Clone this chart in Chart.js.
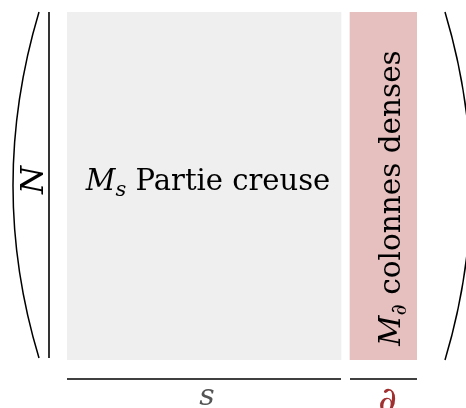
<!DOCTYPE html>
<html>
<head>
<meta charset="utf-8">
<script src="https://cdn.jsdelivr.net/npm/chart.js@4"></script>
<style>
  html, body { margin: 0; padding: 0; background: #fff; }
  #wrap { width: 466px; height: 408px; }
</style>
</head>
<body>
<div id="wrap"><canvas id="matrixChart"></canvas></div>
<script>
// column blocks of the matrix (in column units)
const blockNames = ['s', '∂'];
const blockTitles = ['Partie creuse', 'colonnes denses'];
const blockSubs = ['s', '∂'];
const blockStart = [0, 28.3];
const blockEnd = [27.4, 35];
const rowLabels = ['N'];

const serif = '"DejaVu Serif", "Liberation Serif", serif';

function drawRich(ctx, parts, x, y, align) {
    let total = 0;
    parts.forEach(p => {
        ctx.font = p.font;
        total += ctx.measureText(p.text).width;
    });
    let cx = align === 'center' ? x - total / 2 : x;
    parts.forEach(p => {
        ctx.font = p.font;
        ctx.fillStyle = p.color || '#000';
        ctx.fillText(p.text, cx, y + (p.dy || 0));
        cx += ctx.measureText(p.text).width;
    });
}

const decorations = {
    id: 'decorations',
    afterDatasetsDraw(chart) {
        const ctx = chart.ctx;
        const xs = chart.scales.x;
        const area = chart.chartArea;
        ctx.save();
        ctx.textAlign = 'left';
        ctx.textBaseline = 'alphabetic';

        // labels inside blocks
        const x0 = xs.getPixelForValue(blockStart[0]);
        const x1 = xs.getPixelForValue(blockEnd[0]);
        drawRich(ctx, [
            { text: 'M', font: 'italic 29px ' + serif },
            { text: blockSubs[0], font: 'italic 21px ' + serif, dy: 6 },
            { text: ' ' + blockTitles[0], font: '29px ' + serif }
        ], (x0 + x1) / 2 + 4, 190, 'center');

        const p0 = xs.getPixelForValue(blockStart[1]);
        const p1 = xs.getPixelForValue(blockEnd[1]);
        ctx.save();
        ctx.translate((p0 + p1) / 2 + 16, (area.top + area.bottom) / 2 + 12);
        ctx.rotate(-Math.PI / 2);
        drawRich(ctx, [
            { text: 'M', font: 'italic 29.5px ' + serif },
            { text: blockSubs[1], font: '22px ' + serif, dy: 6 },
            { text: ' ' + blockTitles[1], font: '29.5px ' + serif }
        ], 0, 0, 'center');
        ctx.restore();

        // row count bar and label
        ctx.strokeStyle = '#000';
        ctx.lineWidth = 1.6;
        ctx.beginPath();
        ctx.moveTo(area.left - 18, area.top);
        ctx.lineTo(area.left - 18, area.bottom - 2);
        ctx.stroke();

        ctx.save();
        ctx.translate(area.left - 24, (area.top + area.bottom) / 2 - 6);
        ctx.rotate(-Math.PI / 2);
        ctx.textAlign = 'center';
        ctx.font = 'italic 32px ' + serif;
        ctx.fillStyle = '#000';
        ctx.fillText(rowLabels[0], 0, 0);
        ctx.restore();

        // parentheses
        ctx.lineWidth = 1.5;
        ctx.beginPath();
        ctx.moveTo(39, area.top);
        ctx.quadraticCurveTo(-13, (area.top + area.bottom) / 2, 39, area.bottom - 2);
        ctx.stroke();
        ctx.beginPath();
        ctx.moveTo(445, area.top);
        ctx.quadraticCurveTo(497, (area.top + area.bottom) / 2, 445, area.bottom);
        ctx.stroke();

        // column widths under the blocks
        const colors = ['#555', '#a03030'];
        const fonts = ['italic 30px ' + serif, 'italic 36px ' + serif];
        const base = [45, 52];
        blockNames.forEach((name, i) => {
            const a = xs.getPixelForValue(blockStart[i]);
            const b = xs.getPixelForValue(blockEnd[i]);
            ctx.lineWidth = 1.7;
            ctx.strokeStyle = '#000';
            ctx.beginPath();
            ctx.moveTo(a, area.bottom + 19);
            ctx.lineTo(b, area.bottom + 19);
            ctx.stroke();
            ctx.textAlign = 'center';
            ctx.font = fonts[i];
            ctx.fillStyle = colors[i];
            ctx.fillText(name, (a + b) / 2 + (i === 0 ? 3 : 4), area.bottom + base[i]);
        });
        ctx.restore();
    }
};

new Chart(document.getElementById('matrixChart'), {
    type: 'bar',
    data: {
        labels: rowLabels,
        datasets: [
            {
                label: blockTitles[0],
                data: [[blockStart[0], blockEnd[0]]],
                backgroundColor: '#efefef',
                grouped: false,
                barPercentage: 1,
                categoryPercentage: 1
            },
            {
                label: blockTitles[1],
                data: [[blockStart[1], blockEnd[1]]],
                backgroundColor: '#e6bfbf',
                grouped: false,
                barPercentage: 1,
                categoryPercentage: 1
            }
        ]
    },
    options: {
        indexAxis: 'y',
        responsive: true,
        maintainAspectRatio: false,
        animation: false,
        layout: { padding: { left: 67, right: 49, top: 12, bottom: 48 } },
        scales: {
            x: { type: 'linear', min: 0, max: 35, display: false },
            y: { display: false }
        },
        plugins: {
            legend: { display: false },
            tooltip: { enabled: false }
        }
    },
    plugins: [decorations]
});
</script>
</body>
</html>
